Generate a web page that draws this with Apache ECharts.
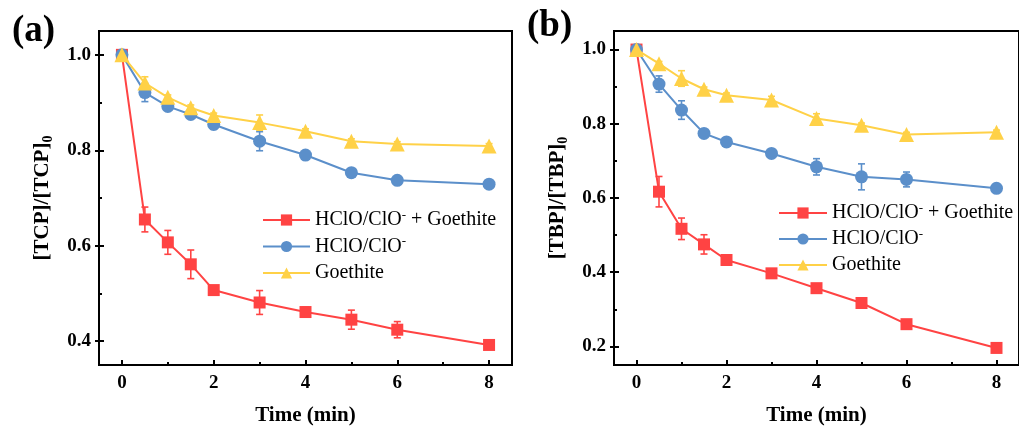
<!DOCTYPE html>
<html>
<head>
<meta charset="utf-8">
<script src="https://cdn.jsdelivr.net/npm/echarts@6/dist/echarts.min.js"></script>
<style>html,body{margin:0;padding:0;background:#fff;}#c{width:1019px;height:431px;}</style>
</head>
<body>
<div id="c"></div>
<script>
// ---- data ----
const times = [0, 0.5, 1, 1.5, 2, 3, 4, 5, 6, 8];
const seriesNames = ['HClO/ClO- + Goethite', 'HClO/ClO-', 'Goethite'];

const aRed      = [1.0, 0.655, 0.607, 0.561, 0.507, 0.481, 0.461, 0.445, 0.424, 0.392];
const aRedErr   = [0, 0.026, 0.025, 0.030, 0.005, 0.025, 0.010, 0.020, 0.017, 0.005];
const aBlue     = [1.0, 0.921, 0.892, 0.875, 0.854, 0.819, 0.790, 0.753, 0.737, 0.729];
const aBlueErr  = [0, 0.019, 0.006, 0.006, 0.010, 0.020, 0.006, 0.008, 0.006, 0.008];
const aYellow   = [1.0, 0.941, 0.911, 0.889, 0.873, 0.858, 0.840, 0.819, 0.813, 0.809];
const aYellowErr= [0, 0.013, 0.005, 0.006, 0.005, 0.016, 0.005, 0.005, 0.005, 0.005];

const bRed      = [1.0, 0.617, 0.517, 0.475, 0.433, 0.397, 0.357, 0.317, 0.260, 0.196];
const bRedErr   = [0, 0.041, 0.029, 0.026, 0.013, 0.008, 0.008, 0.013, 0.008, 0.012];
const bBlue     = [1.0, 0.907, 0.837, 0.774, 0.751, 0.720, 0.684, 0.657, 0.650, 0.626];
const bBlueErr  = [0, 0.022, 0.025, 0.010, 0.008, 0.008, 0.022, 0.035, 0.020, 0.008];
const bYellow   = [1.0, 0.962, 0.922, 0.893, 0.877, 0.864, 0.814, 0.796, 0.771, 0.777];
const bYellowErr= [0, 0.006, 0.021, 0.006, 0.006, 0.010, 0.013, 0.006, 0.006, 0.006];

const xMajorTicks = [0, 2, 4, 6, 8];
const xMinorTicks = [1, 3, 5, 7];
const yMajorA = [0.4, 0.6, 0.8, 1.0];
const yMinorA = [0.5, 0.7, 0.9];
const yMajorB = [0.2, 0.4, 0.6, 0.8, 1.0];
const yMinorB = [0.3, 0.5, 0.7, 0.9];

// ---- styling ----
const FONT = "Liberation Serif, Times New Roman, serif";
const colors = ['#FF4343', '#5B8FCA', '#FFD147'];
const symbols = ['rect', 'circle', 'triangle'];
const symSizes = [12, 13, 15];

const chart = echarts.init(document.getElementById('c'), null, {renderer: 'canvas'});

function pairs(ys) { return times.map((t, i) => [t, ys[i]]); }
function errPairs(ys, es) { return times.map((t, i) => [t, ys[i], es[i]]); }

const grids = [
  {left: 99, top: 31, width: 413, height: 334, show: true, borderColor: '#000', borderWidth: 2, backgroundColor: 'transparent'},
  {left: 614, top: 31, width: 414, height: 334, show: true, borderColor: '#000', borderWidth: 2, backgroundColor: 'transparent'}
];

const xAxes = [], yAxes = [];
const yRanges = [[0.35, 1.05], [0.15, 1.05]];
const yMajors = [yMajorA, yMajorB];
const yMinors = [yMinorA, yMinorB];
const yTitles = ['{t|[TCP]/[TCP]}{s|0}', '{t|[TBP]/[TBP]}{s|0}'];

for (let g = 0; g < 2; g++) {
  xAxes.push({
    type: 'value', gridIndex: g, min: -0.5, max: 8.5, position: 'bottom',
    name: 'Time (min)', nameLocation: 'middle', nameGap: 40,
    nameTextStyle: {fontFamily: FONT, fontWeight: 'bold', fontSize: 21, color: '#000'},
    axisLine: {show: true, onZero: false, lineStyle: {color: '#000', width: 2}},
    axisTick: {show: true, inside: true, length: 5, lineStyle: {color: '#000', width: 2}, customValues: xMajorTicks},
    axisLabel: {show: true, margin: 9, fontFamily: FONT, fontWeight: 'bold', fontSize: 19, color: '#000', customValues: xMajorTicks},
    splitLine: {show: false}
  });
  xAxes.push({
    type: 'value', gridIndex: g, min: -0.5, max: 8.5, position: 'bottom',
    axisLine: {show: false, onZero: false},
    axisTick: {show: true, inside: true, length: 3, lineStyle: {color: '#000', width: 2}, customValues: xMinorTicks},
    axisLabel: {show: false},
    splitLine: {show: false}
  });
  yAxes.push({
    type: 'value', gridIndex: g, min: yRanges[g][0], max: yRanges[g][1], position: 'left',
    name: yTitles[g], nameLocation: 'middle', nameGap: 44, nameRotate: 90,
    nameTextStyle: {
      fontFamily: FONT, fontWeight: 'bold', fontSize: 21, color: '#000',
      rich: {
        t: {fontFamily: FONT, fontWeight: 'bold', fontSize: 21, color: '#000', lineHeight: 24, verticalAlign: 'middle'},
        s: {fontFamily: FONT, fontWeight: 'bold', fontSize: 14, color: '#000', lineHeight: 24, verticalAlign: 'bottom', padding: [8, 0, 0, 0]}
      }
    },
    axisLine: {show: true, onZero: false, lineStyle: {color: '#000', width: 2}},
    axisTick: {show: true, inside: true, length: 5, lineStyle: {color: '#000', width: 2}, customValues: yMajors[g]},
    axisLabel: {show: true, margin: 8, fontFamily: FONT, fontWeight: 'bold', fontSize: 19, color: '#000',
      customValues: yMajors[g], formatter: v => v.toFixed(1)},
    splitLine: {show: false}
  });
  yAxes.push({
    type: 'value', gridIndex: g, min: yRanges[g][0], max: yRanges[g][1], position: 'left',
    axisLine: {show: false, onZero: false},
    axisTick: {show: true, inside: false, length: 4, lineStyle: {color: '#000', width: 2}, customValues: yMajors[g]},
    axisLabel: {show: false}, splitLine: {show: false}
  });
  yAxes.push({
    type: 'value', gridIndex: g, min: yRanges[g][0], max: yRanges[g][1], position: 'left',
    axisLine: {show: false, onZero: false},
    axisTick: {show: true, inside: true, length: 3, lineStyle: {color: '#000', width: 2}, customValues: yMinors[g]},
    axisLabel: {show: false}, splitLine: {show: false}
  });
}

function errSeries(g, data, color) {
  return {
    type: 'custom', xAxisIndex: g * 2, yAxisIndex: g * 3, silent: true, z: 2,
    data: data,
    renderItem: function (params, api) {
      const x = api.value(0), y = api.value(1), e = api.value(2);
      const top = api.coord([x, y + e]);
      const bot = api.coord([x, y - e]);
      const hw = 3.5;
      const st = {stroke: color, lineWidth: 1.6};
      return {
        type: 'group',
        children: [
          {type: 'line', shape: {x1: top[0], y1: top[1], x2: bot[0], y2: bot[1]}, style: st},
          {type: 'line', shape: {x1: top[0] - hw, y1: top[1], x2: top[0] + hw, y2: top[1]}, style: st},
          {type: 'line', shape: {x1: bot[0] - hw, y1: bot[1], x2: bot[0] + hw, y2: bot[1]}, style: st}
        ]
      };
    }
  };
}

function lineSeries(g, k, data) {
  return {
    type: 'line', name: seriesNames[k], xAxisIndex: g * 2, yAxisIndex: g * 3,
    data: data, symbol: symbols[k], symbolSize: symSizes[k], showSymbol: true,
    itemStyle: {color: colors[k]}, lineStyle: {color: colors[k], width: 2},
    z: 3 + k, animation: false
  };
}

const panelData = [
  [[aRed, aRedErr], [aBlue, aBlueErr], [aYellow, aYellowErr]],
  [[bRed, bRedErr], [bBlue, bBlueErr], [bYellow, bYellowErr]]
];

const series = [];
for (let g = 0; g < 2; g++) {
  for (let k = 0; k < 3; k++) {
    const [ys, es] = panelData[g][k];
    series.push(errSeries(g, errPairs(ys, es), colors[k]));
    series.push(lineSeries(g, k, pairs(ys)));
  }
}

function legendFmt(name) {
  return name.replace('ClO-', 'ClO{sup|-}');
}
const legendText = {
  fontFamily: FONT, fontSize: 20, color: '#000', lineHeight: 22,
  rich: {
    sup: {fontFamily: FONT, fontSize: 13, color: '#000', lineHeight: 22, verticalAlign: 'top', padding: [0, 0, 6, 0]}
  }
};

const option = {
  animation: false,
  backgroundColor: '#fff',
  title: [
    {text: '(a)', left: 7, top: 8, textStyle: {fontFamily: FONT, fontWeight: 'bold', fontSize: 37, color: '#000'}},
    {text: '(b)', left: 522, top: 3, textStyle: {fontFamily: FONT, fontWeight: 'bold', fontSize: 37, color: '#000'}}
  ],
  grid: grids,
  xAxis: xAxes,
  yAxis: yAxes,
  legend: [
    {orient: 'vertical', left: 257, top: 204, itemWidth: 47, itemHeight: 14, itemGap: 4.5,
     data: seriesNames, formatter: legendFmt, textStyle: legendText, selectedMode: false},
    {orient: 'vertical', left: 773, top: 197, itemWidth: 48, itemHeight: 14, itemGap: 4,
     data: seriesNames, formatter: legendFmt, textStyle: legendText, selectedMode: false}
  ],
  series: series
};
chart.setOption(option);
</script>
</body>
</html>
